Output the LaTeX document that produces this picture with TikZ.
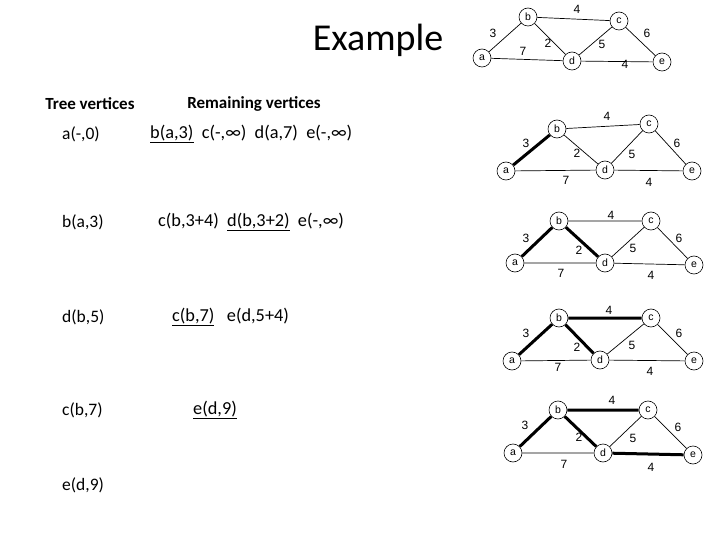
\documentclass[tikz,border=0pt]{standalone}
\usepackage{fontspec}
\setmainfont{Carlito}
\newfontfamily\gfont{Liberation Sans}
\tikzset{
  vtx/.style={circle, draw, line width=0.6pt, inner sep=0pt, minimum size=18pt, font=\gfont\fontsize{10.5}{10.5}\selectfont},
  elbl/.style={inner sep=0pt, font=\gfont\fontsize{12}{12}\selectfont},
  edg/.style={line width=0.7pt},
  tedg/.style={line width=3pt},
  txt/.style={inner sep=0pt, anchor=west, font=\fontsize{17.5}{17.5}\selectfont},
  rtxt/.style={inner sep=0pt, anchor=west, font=\fontsize{18.3}{18.3}\selectfont},
  hdr/.style={inner sep=0pt, font=\bfseries\fontsize{17}{17}\selectfont}
}
\begin{document}
\begin{tikzpicture}[x=1pt,y=-1pt]
\useasboundingbox (0,0) rectangle (720,540);
% title and text
\node[inner sep=0pt, font=\fontsize{38}{38}\selectfont] (title) at (378,40) {Example};
\node[hdr] (h1) at (90,104) {Tree vertices};
\node[hdr] (h2) at (254,104) {Remaining vertices};
\node[txt] (t1) at (62,134) {a(-,0)};
\node[rtxt] (r1) at (150,134) {\underline{b(a,3)}\ \ c(-,∞)\ \ d(a,7)\ \ e(-,∞)};
\node[txt] (t2) at (62,222) {b(a,3)};
\node[rtxt] (r2) at (158,222) {c(b,3+4)\ \ \underline{d(b,3+2)}\ \ e(-,∞)};
\node[txt] (t3) at (62,317) {d(b,5)};
\node[rtxt] (r3) at (172,317) {\underline{c(b,7)}\ \ \ e(d,5+4)};
\node[txt] (t4) at (62,410) {c(b,7)};
\node[rtxt] (r4) at (193,410) {\underline{e(d,9)}};
\node[txt] (t5) at (62,485) {e(d,9)};
% graph 0
\node[vtx] (a0) at (482,58) {a};
\node[vtx] (b0) at (528,17) {b};
\node[vtx] (c0) at (619,21) {c};
\node[vtx] (d0) at (572,61) {d};
\node[vtx] (e0) at (662,62) {e};
\draw[edg] (a0)--(b0) (b0)--(c0) (b0)--(d0) (a0)--(d0) (c0)--(d0) (c0)--(e0) (d0)--(e0);
\node[elbl] (l0a) at (577,9) {4};
\node[elbl] (l0b) at (493,33) {3};
\node[elbl] (l0c) at (523,51) {7};
\node[elbl] (l0d) at (548,43) {2};
\node[elbl] (l0e) at (602,44) {5};
\node[elbl] (l0f) at (647,33) {6};
\node[elbl] (l0g) at (625,64) {4};
% graph 1
\node[vtx] (a1) at (506,171) {a};
\node[vtx] (b1) at (557,129) {b};
\node[vtx] (c1) at (649,124) {c};
\node[vtx] (d1) at (605,170) {d};
\node[vtx] (e1) at (692,171) {e};
\draw[edg] (b1)--(c1) (b1)--(d1) (a1)--(d1) (c1)--(d1) (c1)--(e1) (d1)--(e1);
\draw[tedg] (a1)--(b1);
\node[elbl] (l1a) at (607,116) {4};
\node[elbl] (l1b) at (526,143) {3};
\node[elbl] (l1c) at (566,180) {7};
\node[elbl] (l1d) at (577,153) {2};
\node[elbl] (l1e) at (632,154) {5};
\node[elbl] (l1f) at (677,143) {6};
\node[elbl] (l1g) at (649,182) {4};
% graph 2
\node[vtx] (a2) at (515,263) {a};
\node[vtx] (b2) at (559,221) {b};
\node[vtx] (c2) at (651,221) {c};
\node[vtx] (d2) at (605,263) {d};
\node[vtx] (e2) at (694,265) {e};
\draw[edg] (b2)--(c2) (a2)--(d2) (c2)--(d2) (c2)--(e2) (d2)--(e2);
\draw[tedg] (a2)--(b2) (b2)--(d2);
\node[elbl] (l2a) at (611,215) {4};
\node[elbl] (l2b) at (526,238) {3};
\node[elbl] (l2c) at (561,273) {7};
\node[elbl] (l2d) at (579,250) {2};
\node[elbl] (l2e) at (633,248) {5};
\node[elbl] (l2f) at (679,238) {6};
\node[elbl] (l2g) at (651,275) {4};
% graph 3
\node[vtx] (a3) at (512,361) {a};
\node[vtx] (b3) at (559,318) {b};
\node[vtx] (c3) at (651,318) {c};
\node[vtx] (d3) at (600,360) {d};
\node[vtx] (e3) at (694,361) {e};
\draw[edg] (a3)--(d3) (c3)--(d3) (c3)--(e3) (d3)--(e3);
\draw[tedg] (a3)--(b3) (b3)--(d3) (b3)--(c3);
\node[elbl] (l3a) at (609,310) {4};
\node[elbl] (l3b) at (526,333) {3};
\node[elbl] (l3c) at (558,367) {7};
\node[elbl] (l3d) at (577,347) {2};
\node[elbl] (l3e) at (632,345) {5};
\node[elbl] (l3f) at (679,333) {6};
\node[elbl] (l3g) at (650,371) {4};
% graph 4
\node[vtx] (a4) at (513,453) {a};
\node[vtx] (b4) at (558,410) {b};
\node[vtx] (c4) at (648,410) {c};
\node[vtx] (d4) at (603,453) {d};
\node[vtx] (e4) at (693,455) {e};
\draw[edg] (a4)--(d4) (c4)--(d4) (c4)--(e4);
\draw[tedg] (a4)--(b4) (b4)--(d4) (b4)--(c4) (d4)--(e4);
\node[elbl] (l4a) at (612,400) {4};
\node[elbl] (l4b) at (525,425) {3};
\node[elbl] (l4c) at (564,464) {7};
\node[elbl] (l4d) at (579,437) {2};
\node[elbl] (l4e) at (633,438) {5};
\node[elbl] (l4f) at (678,427) {6};
\node[elbl] (l4g) at (651,467) {4};
\end{tikzpicture}
\end{document}
